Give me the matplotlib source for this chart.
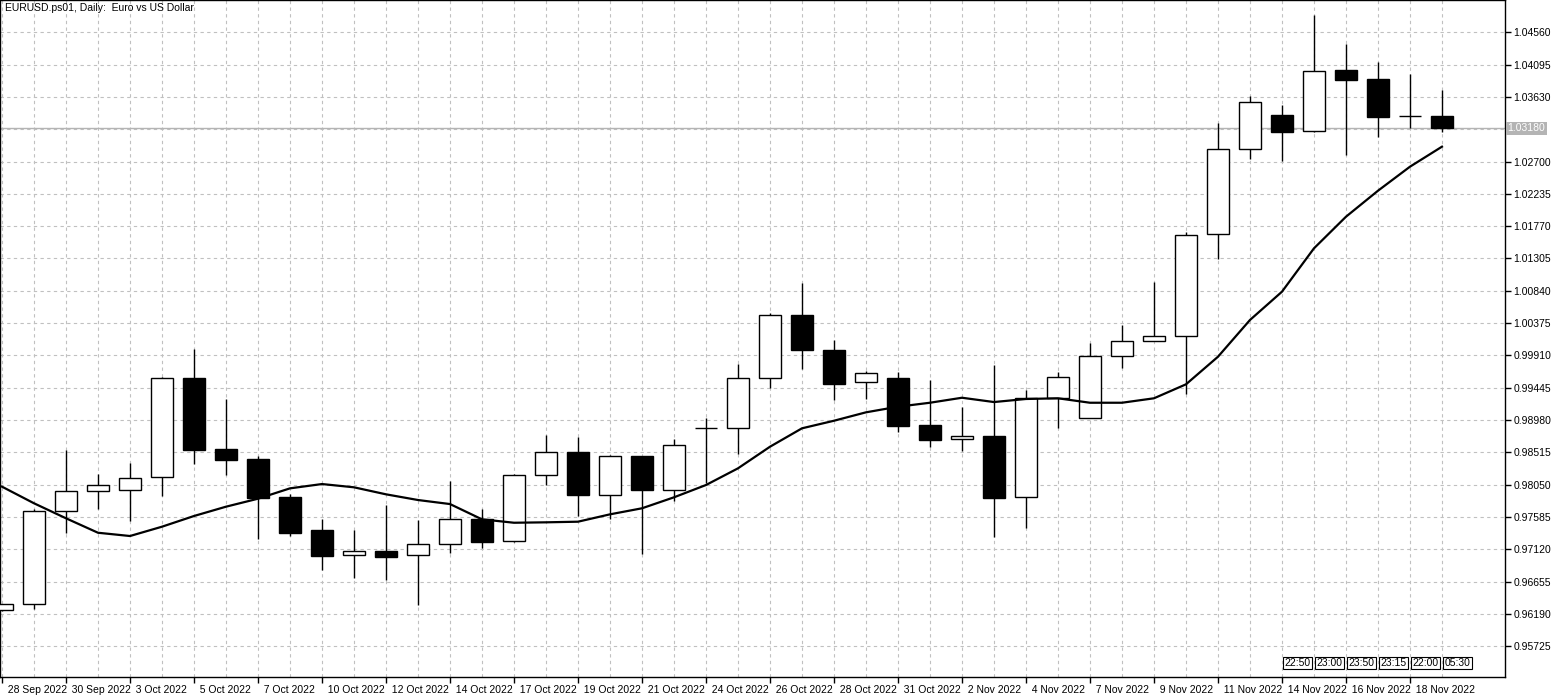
import matplotlib
matplotlib.use("Agg")
import matplotlib.pyplot as plt
import matplotlib.transforms as mtransforms
import numpy as np

# daily EURUSD candles
opens = [0.96242, 0.96328, 0.97666, 0.97954, 0.97969, 0.98156, 0.99580, 0.98563, 0.98419, 0.97872,
         0.97393, 0.97033, 0.97091, 0.97033, 0.97191, 0.97551, 0.97235, 0.98184, 0.98516, 0.97905,
         0.98458, 0.97977, 0.98861, 0.98861, 0.99580, 1.00487, 0.99984, 0.99523, 0.99580, 0.98904,
         0.98703, 0.98746, 0.97868, 0.99304, 0.99013, 0.99897, 1.00113, 1.00185, 1.01653, 1.02876,
         1.03370, 1.03135, 1.04013, 1.03884, 1.03351, 1.03351]
highs = [0.96333, 0.97700, 0.98549, 0.98203, 0.98362, 0.99604, 1.00002, 0.99283, 0.98462, 0.97915,
         0.97556, 0.97393, 0.97757, 0.97541, 0.98098, 0.97700, 0.98199, 0.98764, 0.98740, 0.98472,
         0.98465, 0.98707, 0.99013, 0.99786, 1.00516, 1.00956, 1.00132, 0.99681, 0.99671, 0.99556,
         0.99167, 0.99772, 0.99412, 0.99667, 1.00084, 1.00348, 1.00966, 1.01682, 1.03255, 1.03639,
         1.03514, 1.04809, 1.04392, 1.04128, 1.03960, 1.03730]
lows = [0.96232, 0.96260, 0.97358, 0.97704, 0.97531, 0.97891, 0.98351, 0.98193, 0.97272, 0.97315,
        0.96826, 0.96711, 0.96682, 0.96322, 0.97071, 0.97143, 0.97220, 0.98049, 0.97603, 0.97551,
        0.97056, 0.97810, 0.98069, 0.98495, 0.99437, 0.99710, 0.99273, 0.99287, 0.98812, 0.98596,
        0.98534, 0.97301, 0.97430, 0.98870, 0.99013, 0.99733, 1.00113, 0.99359, 1.01297, 1.02737,
        1.02708, 1.03121, 1.02799, 1.03049, 1.03187, 1.03130]
closes = [0.96328, 0.97666, 0.97954, 0.98040, 0.98141, 0.99580, 0.98553, 0.98409, 0.97862, 0.97358,
          0.97027, 0.97091, 0.97013, 0.97191, 0.97551, 0.97220, 0.98184, 0.98516, 0.97905, 0.98458,
          0.97977, 0.98616, 0.98862, 0.99580, 1.00487, 0.99984, 0.99503, 0.99652, 0.98898, 0.98697,
          0.98746, 0.97865, 0.99304, 0.99595, 0.99897, 1.00113, 1.00185, 1.01639, 1.02876, 1.03553,
          1.03130, 1.03999, 1.03878, 1.03345, 1.03350, 1.03180]
ma = [0.98021, 0.97782, 0.97566, 0.97358, 0.97311, 0.97445, 0.97599, 0.97733, 0.97848, 0.97997,
      0.98059, 0.98012, 0.97911, 0.97829, 0.97771, 0.97551, 0.97502, 0.97508, 0.97517, 0.97623,
      0.97710, 0.97868, 0.98045, 0.98285, 0.98596, 0.98861, 0.98970, 0.99091, 0.99172, 0.99229,
      0.99301, 0.99239, 0.99283, 0.99293, 0.99229, 0.99229, 0.99293, 0.99494, 0.99891, 1.00420,
      1.00827, 1.01451, 1.01906, 1.02280, 1.02626, 1.02914]

date_labels = ['28 Sep 2022', '30 Sep 2022', '3 Oct 2022', '5 Oct 2022', '7 Oct 2022', '10 Oct 2022',
               '12 Oct 2022', '14 Oct 2022', '17 Oct 2022', '19 Oct 2022', '21 Oct 2022', '24 Oct 2022',
               '26 Oct 2022', '28 Oct 2022', '31 Oct 2022', '2 Nov 2022', '4 Nov 2022', '7 Nov 2022',
               '9 Nov 2022', '11 Nov 2022', '14 Nov 2022', '16 Nov 2022', '18 Nov 2022']
price_ticks = [0.95725, 0.96190, 0.96655, 0.97120, 0.97585, 0.98050, 0.98515, 0.98980, 0.99445,
               0.99910, 1.00375, 1.00840, 1.01305, 1.01770, 1.02235, 1.02700, 1.03630, 1.04095, 1.04560]
grid_levels = price_ticks + [1.03165]
current_price = 1.03180
time_marks = ['22:50', '23:00', '23:50', '23:15', '22:00', '05:30']

plt.rcParams['font.family'] = ['Liberation Sans', 'DejaVu Sans']
fs = 7.5
fig = plt.figure(figsize=(15.58, 6.98), dpi=100)
ax = fig.add_axes([0, 21 / 698, 1505 / 1558, 677 / 698])

n = len(opens)
x = np.arange(n)
width = 0.69

# grid
for xi in x:
    ax.axvline(xi, color='#c0c0c0', lw=0.8, ls=(0, (3, 3)), zorder=0)
for g in grid_levels:
    ax.axhline(g, color='#c0c0c0', lw=0.8, ls=(0, (3, 3)), zorder=0)

ax.axhline(current_price, color='#b4b4b4', lw=1, zorder=1)

for i in range(n):
    o, h, l, c = opens[i], highs[i], lows[i], closes[i]
    top, bot = max(o, c), min(o, c)
    ax.vlines(i, l, h, color='black', lw=1, zorder=2)
    if abs(c - o) < 0.00003:
        ax.hlines(o, i - width / 2, i + width / 2, color='black', lw=1, zorder=3)
        continue
    face = 'white' if c > o else 'black'
    ax.bar(i, top - bot, width, bottom=bot, color=face, edgecolor='black',
           linewidth=1, zorder=3)

ax.plot(x, ma, color='black', lw=1.6, zorder=4)

ax.set_xlim(-0.0625, 46.97)
ax.set_ylim(0.95282, 1.05025)

ax.yaxis.tick_right()
ax.set_yticks(price_ticks)
ax.set_yticklabels(['%.5f' % p for p in price_ticks])
ax.set_xticks(x[::2])
ax.set_xticklabels(['  ' + d for d in date_labels], ha='left')
ax.tick_params(axis='both', labelsize=fs, length=4, width=1, color='black', pad=2)
for spine in ax.spines.values():
    spine.set_color('black')
    spine.set_linewidth(1)

ax.text(1.0015, (current_price - 0.95282) / (1.05025 - 0.95282), '%.5f' % current_price,
        transform=ax.transAxes, fontsize=fs, color='white', va='center', ha='left',
        bbox=dict(boxstyle='square,pad=0.15', fc='#b4b4b4', ec='none'))

trans = mtransforms.blended_transform_factory(ax.transData, ax.transAxes)
for k, t in enumerate(time_marks):
    ax.text(40 + k + 0.08, 0.021, t, transform=trans, fontsize=fs, ha='left', va='center',
            bbox=dict(boxstyle='square,pad=0.12', fc='white', ec='black', lw=0.8))

ax.text(0.003, 0.995, 'EURUSD.ps01, Daily:  Euro vs US Dollar', transform=ax.transAxes,
        fontsize=fs, ha='left', va='top')

fig.savefig('out.png', dpi=100)
